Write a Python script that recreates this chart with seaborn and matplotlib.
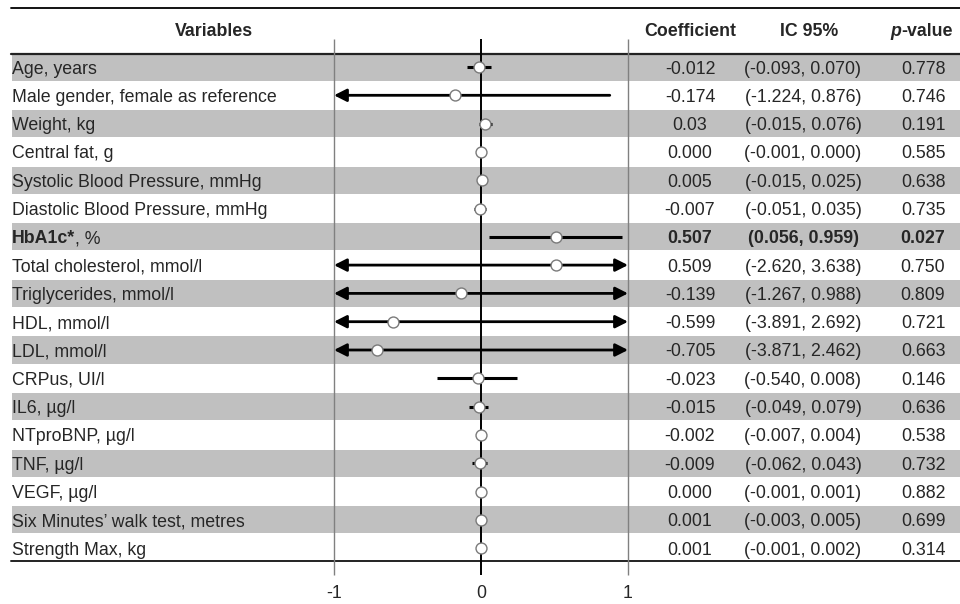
import matplotlib
matplotlib.use("Agg")
import matplotlib.pyplot as plt
import matplotlib.transforms as mtransforms
import seaborn as sns

# table contents
variables = ["Age, years", "Male gender, female as reference", "Weight, kg", "Central fat, g",
             "Systolic Blood Pressure, mmHg", "Diastolic Blood Pressure, mmHg", "HbA1c*, %",
             "Total cholesterol, mmol/l", "Triglycerides, mmol/l", "HDL, mmol/l", "LDL, mmol/l",
             "CRPus, UI/l", "IL6, µg/l", "NTproBNP, µg/l", "TNF, µg/l", "VEGF, µg/l",
             "Six Minutes’ walk test, metres", "Strength Max, kg"]
coef_txt = ["-0.012", "-0.174", "0.03", "0.000", "0.005", "-0.007", "0.507", "0.509", "-0.139",
            "-0.599", "-0.705", "-0.023", "-0.015", "-0.002", "-0.009", "0.000", "0.001", "0.001"]
ci_txt = ["(-0.093, 0.070)", "(-1.224, 0.876)", "(-0.015, 0.076)", "(-0.001, 0.000)",
          "(-0.015, 0.025)", "(-0.051, 0.035)", "(0.056, 0.959)", "(-2.620, 3.638)",
          "(-1.267, 0.988)", "(-3.891, 2.692)", "(-3.871, 2.462)", "(-0.540, 0.008)",
          "(-0.049, 0.079)", "(-0.007, 0.004)", "(-0.062, 0.043)", "(-0.001, 0.001)",
          "(-0.003, 0.005)", "(-0.001, 0.002)"]
p_txt = ["0.778", "0.746", "0.191", "0.585", "0.638", "0.735", "0.027", "0.750", "0.809",
         "0.721", "0.663", "0.146", "0.636", "0.538", "0.732", "0.882", "0.699", "0.314"]

# forest plot values (as drawn)
coef = [-0.012, -0.174, 0.03, 0.000, 0.005, -0.007, 0.507, 0.509, -0.139,
        -0.599, -0.705, -0.023, -0.015, -0.002, -0.009, 0.000, 0.001, 0.001]
ci_lo = [-0.093, -1.224, -0.015, -0.001, -0.015, -0.051, 0.056, -2.620, -1.267,
         -3.891, -3.871, -0.30, -0.08, -0.007, -0.062, -0.001, -0.003, -0.001]
ci_hi = [0.070, 0.876, 0.076, 0.000, 0.025, 0.035, 0.959, 3.638, 1.05,
         2.692, 2.462, 0.245, 0.045, 0.004, 0.043, 0.001, 0.005, 0.002]
bold_row = 6
ticks = [-1, 0, 1]

sns.set_theme(style="white")
plt.rcParams['font.family'] = ['Liberation Sans', 'DejaVu Sans']
FS = 12.8

W, H = 960, 604
X0, XS = 481, 147.0   # pixel of x=0, pixels per unit
Y0, YS = 67, 28.3     # pixel of first row, pixels per row


def px2x(px):
    return (px - X0) / XS


def py2row(py):
    return (py - Y0) / YS


BASE = 6.5 / YS  # baseline offset below the row centre

fig = plt.figure(figsize=(W / 100, H / 100), dpi=100)
ax = fig.add_axes([0, 0, 1, 1])

rows = list(range(len(variables)))

# striped rows
for i in rows:
    if i % 2 == 0:
        ax.axhspan(i - 0.48, i + 0.48, xmin=12 / W, xmax=1, color='#c0c0c0', lw=0, zorder=0)

# rules
ax.axhline(py2row(7.5), xmin=11 / W, xmax=1, color='black', lw=1.3, zorder=1)
ax.axhline(py2row(54), xmin=11 / W, xmax=1, color='#222222', lw=1.6, zorder=1)
ax.axhline(py2row(560.5), xmin=11 / W, xmax=1, color='#222222', lw=1.4, zorder=1)

# reference lines
ax.vlines([-1, 1], py2row(39), py2row(575), color='#808080', lw=1, zorder=2)
ax.vlines(0, py2row(39), py2row(575), color='black', lw=1.4, zorder=3)

# confidence intervals
for i in rows:
    lo, hi = ci_lo[i], ci_hi[i]
    left_out, right_out = lo < -1, hi > 1
    if left_out or right_out:
        if left_out and right_out:
            style, xy, xytext = "<|-|>", (1, i), (-1, i)
        elif left_out:
            style, xy, xytext = "-|>", (-1, i), (hi, i)
        else:
            style, xy, xytext = "-|>", (1, i), (lo, i)
        ax.annotate('', xy=xy, xytext=xytext,
                    arrowprops=dict(arrowstyle=style + ",head_length=0.75,head_width=0.38",
                                    mutation_scale=10, lw=2, color='black',
                                    shrinkA=0, shrinkB=0), zorder=4)
    else:
        ax.hlines(i, lo, hi, color='black', lw=2.2, zorder=4)

sns.scatterplot(x=coef, y=rows, ax=ax, s=62, color='white', edgecolor='#7a7a7a',
                linewidth=1, zorder=5, legend=False)
ax.set_xlim(px2x(0), px2x(W))
ax.set_ylim(py2row(H), py2row(0))
ax.axis('off')

# text columns
tr = mtransforms.blended_transform_factory(ax.transAxes, ax.transData)
hy = py2row(36.5)
ax.text(214 / W, hy, "Variables", transform=tr, ha='center', va='baseline', fontsize=FS, fontweight='bold')
ax.text(690 / W, hy, "Coefficient", transform=tr, ha='center', va='baseline', fontsize=FS, fontweight='bold')
ax.text(809 / W, hy, "IC 95%", transform=tr, ha='center', va='baseline', fontsize=FS, fontweight='bold')
tv = ax.text(953 / W, hy, "-value", transform=tr, ha='right', va='baseline', fontsize=FS, fontweight='bold')
ax.annotate("p", xy=(0, 0), xycoords=tv, ha='right', va='bottom', fontsize=FS,
            fontweight='bold', fontstyle='italic')

for i in rows:
    w = 'bold' if i == bold_row else 'normal'
    y = i + BASE
    if i == bold_row:
        name, rest = variables[i].split(',', 1)
        t = ax.text(12 / W, y, name, transform=tr, ha='left', va='baseline', fontsize=FS, fontweight='bold')
        ax.annotate(',' + rest, xy=(1, 0), xycoords=t, ha='left', va='bottom', fontsize=FS)
    else:
        ax.text(12 / W, y, variables[i], transform=tr, ha='left', va='baseline', fontsize=FS)
    ax.text(690 / W, y, coef_txt[i], transform=tr, ha='center', va='baseline', fontsize=FS, fontweight=w)
    ax.text(803 / W, y, ci_txt[i], transform=tr, ha='center', va='baseline', fontsize=FS, fontweight=w)
    ax.text(923 / W, y, p_txt[i], transform=tr, ha='center', va='baseline', fontsize=FS, fontweight=w)

# x tick labels
for t in ticks:
    ax.text(t, py2row(594), str(t), ha='center', va='center', fontsize=FS)

fig.savefig('out.png', dpi=100)
